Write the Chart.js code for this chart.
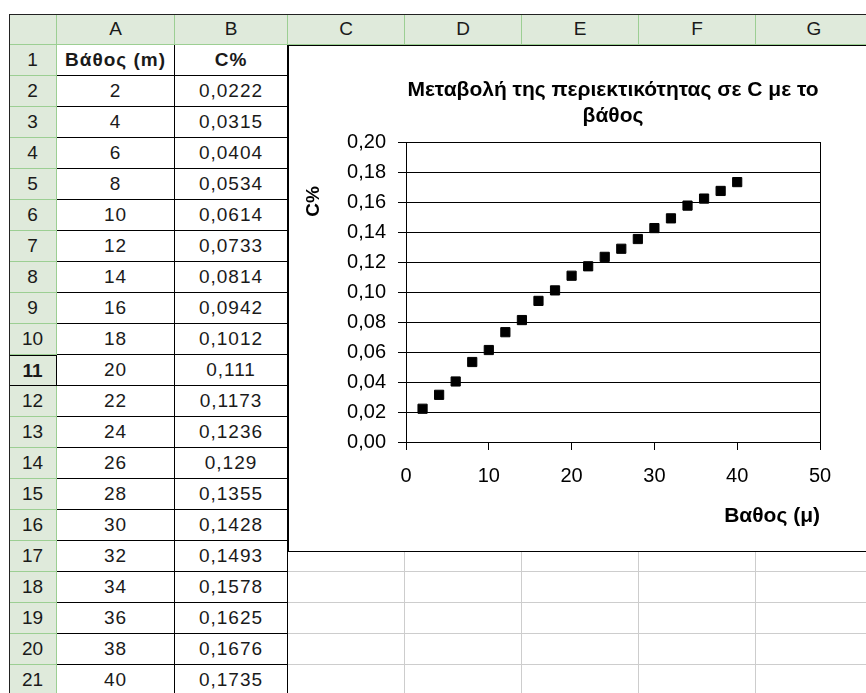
<!DOCTYPE html>
<html>
<head>
<meta charset="utf-8">
<script src="https://cdn.jsdelivr.net/npm/chart.js@4.4.1/dist/chart.umd.min.js"></script>
<style>
  html, body { margin: 0; padding: 0; background: #fff; width: 866px; height: 693px; overflow: hidden; }
  body { position: relative; font-family: "Liberation Sans", Arial, sans-serif; }
  .cell { position: absolute; box-sizing: border-box; font-size: 19px; color: #1a1a1a; text-align: center;
          line-height: 30px; white-space: nowrap; overflow: hidden; }
  .hdr { background: #dfeadb; border-right: 1px solid #9ccf93; border-bottom: 1px solid #9ccf93; }
  .grid { border-right: 1px solid #cdcdcd; border-bottom: 1px solid #cdcdcd; }
  .data { border-right: 1px solid #000; border-bottom: 1px solid #000; letter-spacing: 1px; }
  .line { position: absolute; background: #222; }
  #chartBox { position: absolute; left: 288px; top: 45px; width: 600px; height: 507px; box-sizing: border-box;
              border: 1px solid #000; background: #fff; z-index: 5; }
</style>
</head>
<body>
<div id="sheet"></div>
<div id="chartBox"><canvas id="chartDepth" width="598" height="505"></canvas></div>
<script>
// data from columns A and B
const depths = [2, 4, 6, 8, 10, 12, 14, 16, 18, 20, 22, 24, 26, 28, 30, 32, 34, 36, 38, 40];
const carbon = [0.0222, 0.0315, 0.0404, 0.0534, 0.0614, 0.0733, 0.0814, 0.0942, 0.1012, 0.111,
                0.1173, 0.1236, 0.129, 0.1355, 0.1428, 0.1493, 0.1578, 0.1625, 0.1676, 0.1735];
const colNames = ['A', 'B', 'C', 'D', 'E', 'F', 'G', 'H'];
const headers = ['Βάθος (m)', 'C%'];
const chartTitle = ['Μεταβολή της περιεκτικότητας σε C με το', 'βάθος'];
const xTitle = 'Βαθος (μ)';
const yTitle = 'C%';

// ---- spreadsheet grid ----
const sheet = document.getElementById('sheet');
const colW = [118, 113, 117, 117, 117, 117, 117, 117];
const colX = [];
let cx = 57;
colW.forEach(w => { colX.push(cx); cx += w; });
const rowTop = r => 45 + (r - 1) * 31;

function cell(x, y, w, h, cls, text, bold) {
  const d = document.createElement('div');
  d.className = 'cell ' + cls;
  d.style.left = x + 'px';
  d.style.top = y + 'px';
  d.style.width = w + 'px';
  d.style.height = h + 'px';
  if (bold) d.style.fontWeight = 'bold';
  d.textContent = text;
  sheet.appendChild(d);
  return d;
}

cell(9, 14, 48, 31, 'hdr', '');
colNames.forEach((c, i) => cell(colX[i], 14, colW[i], 31, 'hdr', c));

for (let r = 1; r <= 22; r++) {
  const rh = cell(9, rowTop(r), 48, 31, 'hdr', String(r), r === 11);
  if (r === 11) { rh.style.border = '1px solid #000'; rh.style.borderLeft = 'none'; }
  for (let c = 0; c < colNames.length; c++) {
    let text = '', cls = 'grid', bold = false;
    if (c < 2 && r <= 21) {
      cls = 'data';
      if (r === 1) { text = headers[c]; bold = true; }
      else if (c === 0) text = String(depths[r - 2]);
      else text = String(carbon[r - 2]).replace('.', ',');
    }
    cell(colX[c], rowTop(r), colW[c], 31, cls, text, bold);
  }
}
// outer dark edge of the sheet
const edgeTop = document.createElement('div');
edgeTop.className = 'line';
Object.assign(edgeTop.style, { left: '9px', top: '14px', width: '857px', height: '1px' });
sheet.appendChild(edgeTop);
const edgeLeft = document.createElement('div');
edgeLeft.className = 'line';
Object.assign(edgeLeft.style, { left: '9px', top: '14px', width: '1px', height: '680px' });
sheet.appendChild(edgeLeft);

// ---- chart ----
const yTitlePlugin = {
  id: 'yTitle',
  afterDraw(chart) {
    const { ctx, chartArea } = chart;
    ctx.save();
    ctx.translate(chartArea.left - 92, chartArea.top + 59);
    ctx.rotate(-Math.PI / 2);
    ctx.font = 'bold 19px "Liberation Sans", Arial, sans-serif';
    ctx.fillStyle = '#000';
    ctx.textAlign = 'center';
    ctx.textBaseline = 'middle';
    ctx.fillText(yTitle, 0, 0);
    ctx.restore();
  }
};

const fontFam = '"Liberation Sans", Arial, sans-serif';

new Chart(document.getElementById('chartDepth'), {
  type: 'scatter',
  data: {
    datasets: [{
      label: 'C%',
      data: depths.map((d, i) => ({ x: d, y: carbon[i] })),
      pointStyle: 'rect',
      pointRadius: 6.5,
      backgroundColor: '#000',
      borderColor: '#000',
      borderWidth: 1
    }]
  },
  options: {
    responsive: false,
    animation: false,
    devicePixelRatio: 1,
    layout: { padding: { left: 0, right: 67, top: 0, bottom: 0 } },
    plugins: {
      legend: { display: false },
      tooltip: { enabled: false },
      title: {
        display: true,
        text: chartTitle,
        fullSize: false,
        color: '#000',
        font: { family: fontFam, size: 21, weight: 'bold', lineHeight: 1.2 },
        padding: { top: 32, bottom: 14 }
      }
    },
    scales: {
      x: {
        type: 'linear',
        min: 0,
        max: 50,
        ticks: { stepSize: 10, color: '#000', font: { family: fontFam, size: 20 }, padding: 14 },
        grid: { drawOnChartArea: false, drawTicks: true, tickLength: 8, color: '#000' },
        border: { color: '#000', width: 1 },
        title: {
          display: true, text: xTitle, align: 'end', color: '#000',
          font: { family: fontFam, size: 21, weight: 'bold', lineHeight: 1.2 },
          padding: { top: 0, bottom: 22 }
        },
        afterFit(s) { s.height = 109; }
      },
      y: {
        min: 0,
        max: 0.2,
        ticks: {
          stepSize: 0.02, color: '#000', font: { family: fontFam, size: 20 }, padding: 12,
          callback: v => v.toFixed(2).replace('.', ',')
        },
        grid: { color: '#000', tickLength: 8 },
        border: { color: '#000', width: 1 },
        afterFit(s) { s.width = 117; }
      },
      y2: {
        position: 'right',
        min: 0,
        max: 1,
        ticks: { display: false },
        grid: { display: false },
        border: { display: true, color: '#000' },
        afterFit(s) { s.width = 0; }
      }
    }
  },
  plugins: [yTitlePlugin]
});
</script>
</body>
</html>
